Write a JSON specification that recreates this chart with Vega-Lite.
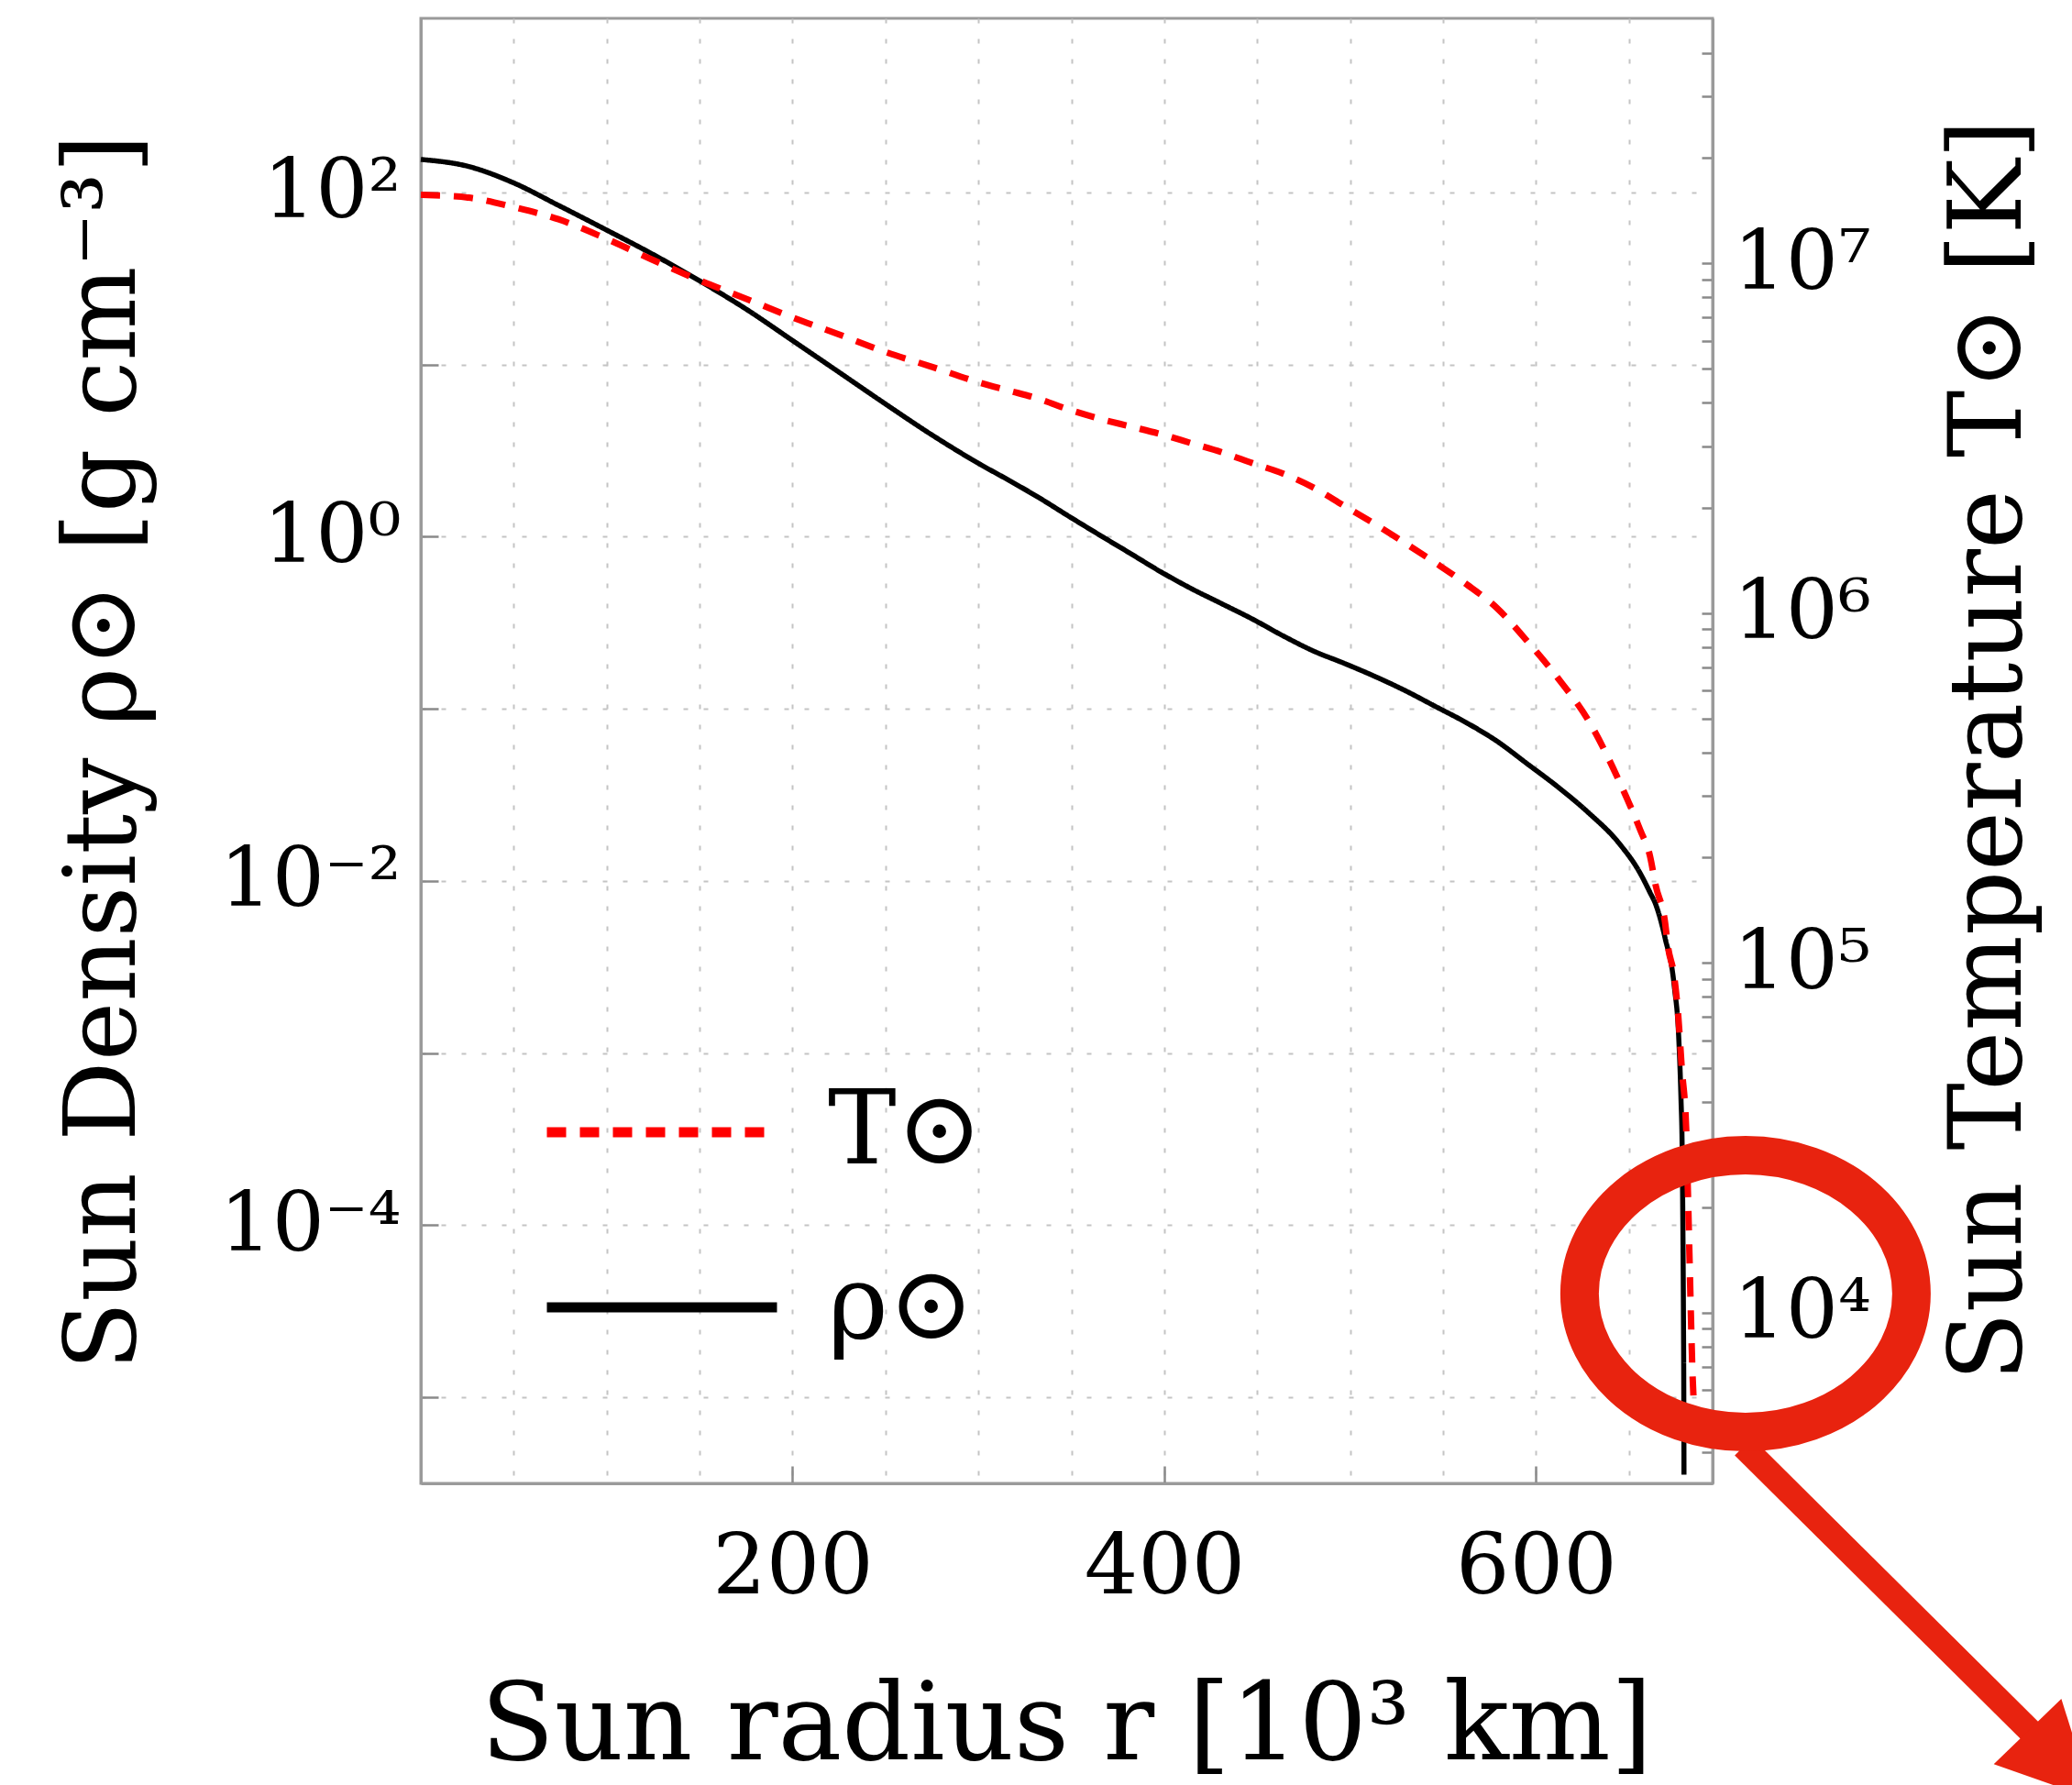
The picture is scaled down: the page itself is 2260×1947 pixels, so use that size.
{
  "$schema": "https://vega.github.io/schema/vega-lite/v6.json",
  "width": 1409,
  "height": 1598,
  "autosize": {"type": "none"},
  "padding": {"left": 459, "top": 20, "right": 392, "bottom": 329},
  "background": "white",
  "config": {
    "view": {"stroke": "#9a9a9a", "strokeWidth": 3},
    "font": "DejaVu Serif",
    "axis": {
      "labelFont": "DejaVu Serif",
      "titleFont": "DejaVu Serif",
      "labelColor": "black",
      "titleColor": "black",
      "titleFontWeight": "normal",
      "domainColor": "#9a9a9a",
      "domainWidth": 3,
      "tickColor": "#8a8a8a",
      "tickWidth": 2.5,
      "gridColor": "#c4c4c4",
      "gridDash": [5, 17],
      "gridWidth": 2,
      "labelOverlap": false,
      "labelFlush": false,
      "labelBound": false,
      "labelLimit": 0
    }
  },
  "datasets": {
    "density": [
      {"r": 0, "rho": 155.2},
      {"r": 25.7, "rho": 141.3},
      {"r": 49.9, "rho": 113.5},
      {"r": 74.1, "rho": 83.95},
      {"r": 98.3, "rho": 61.66},
      {"r": 124.8, "rho": 43.65},
      {"r": 150.1, "rho": 30.55},
      {"r": 175.4, "rho": 20.84},
      {"r": 199.7, "rho": 13.84},
      {"r": 223.9, "rho": 9.183},
      {"r": 250.3, "rho": 5.861},
      {"r": 274.5, "rho": 3.926},
      {"r": 300.9, "rho": 2.630},
      {"r": 315.9, "rho": 2.138},
      {"r": 332.3, "rho": 1.690},
      {"r": 348.8, "rho": 1.309},
      {"r": 365.2, "rho": 1.021},
      {"r": 381.6, "rho": 0.7998},
      {"r": 398.0, "rho": 0.6252},
      {"r": 414.5, "rho": 0.4989},
      {"r": 430.9, "rho": 0.4074},
      {"r": 447.4, "rho": 0.3319},
      {"r": 463.8, "rho": 0.2655},
      {"r": 480.3, "rho": 0.2163},
      {"r": 496.7, "rho": 0.1837},
      {"r": 513.2, "rho": 0.1542},
      {"r": 529.6, "rho": 0.1274},
      {"r": 546.1, "rho": 0.1028},
      {"r": 562.5, "rho": 0.08299},
      {"r": 578.9, "rho": 0.06486},
      {"r": 595.4, "rho": 0.04775},
      {"r": 611.8, "rho": 0.03508},
      {"r": 628.3, "rho": 0.02483},
      {"r": 644.7, "rho": 0.01652},
      {"r": 656.2, "rho": 0.01099},
      {"r": 661.2, "rho": 0.00861},
      {"r": 664.4, "rho": 0.00729},
      {"r": 669.4, "rho": 0.004667},
      {"r": 674.4, "rho": 0.002427},
      {"r": 676.8, "rho": 0.001213},
      {"r": 678.0, "rho": 0.000537},
      {"r": 678.6, "rho": 0.000288},
      {"r": 679.0, "rho": 0.0001},
      {"r": 679.3, "rho": 0.0000316},
      {"r": 679.5, "rho": 0.00001},
      {"r": 679.6, "rho": 0.00000355}
    ],
    "temperature": [
      {"r": 0, "T": 15700000},
      {"r": 25.7, "T": 15420000},
      {"r": 49.9, "T": 14490000},
      {"r": 74.1, "T": 13370000},
      {"r": 98.3, "T": 11860000},
      {"r": 124.8, "T": 10230000},
      {"r": 150.1, "T": 8933000},
      {"r": 175.4, "T": 7907000},
      {"r": 199.7, "T": 7015000},
      {"r": 223.9, "T": 6295000},
      {"r": 250.3, "T": 5572000},
      {"r": 274.5, "T": 5070000},
      {"r": 300.9, "T": 4560000},
      {"r": 315.9, "T": 4335000},
      {"r": 332.3, "T": 4102000},
      {"r": 348.8, "T": 3819000},
      {"r": 365.2, "T": 3597000},
      {"r": 381.6, "T": 3420000},
      {"r": 398.0, "T": 3251000},
      {"r": 414.5, "T": 3062000},
      {"r": 430.9, "T": 2884000},
      {"r": 447.4, "T": 2685000},
      {"r": 463.8, "T": 2506000},
      {"r": 480.3, "T": 2286000},
      {"r": 496.7, "T": 2028000},
      {"r": 513.2, "T": 1799000},
      {"r": 529.6, "T": 1585000},
      {"r": 546.1, "T": 1390000},
      {"r": 562.5, "T": 1211000},
      {"r": 578.9, "T": 1035000},
      {"r": 595.4, "T": 829900},
      {"r": 611.8, "T": 651600},
      {"r": 628.3, "T": 492000},
      {"r": 644.7, "T": 331100},
      {"r": 656.2, "T": 238800},
      {"r": 661.2, "T": 203200},
      {"r": 664.4, "T": 166300},
      {"r": 669.4, "T": 130600},
      {"r": 671.0, "T": 111200},
      {"r": 674.4, "T": 90990},
      {"r": 676.5, "T": 70790},
      {"r": 678.4, "T": 50120},
      {"r": 680.8, "T": 33340},
      {"r": 681.7, "T": 22280},
      {"r": 682.5, "T": 14890},
      {"r": 683.3, "T": 9977},
      {"r": 684.2, "T": 6668},
      {"r": 685.0, "T": 5346},
      {"r": 685.4, "T": 4790}
    ]
  },
  "layer": [
    {
      "data": {"name": "density"},
      "mark": {"type": "line", "strokeWidth": 5.5, "interpolate": "monotone"},
      "encoding": {
        "x": {
          "field": "r",
          "type": "quantitative",
          "scale": {"domain": [0, 695], "nice": false, "zero": false},
          "axis": {
            "orient": "bottom",
            "values": [50, 100, 150, 200, 250, 300, 350, 400, 450, 500, 550, 600, 650],
            "grid": true,
            "ticks": false,
            "labels": false,
            "domain": false,
            "title": null
          }
        },
        "y": {
          "field": "rho",
          "type": "quantitative",
          "scale": {"type": "log", "domain": [0.00000316, 1025], "nice": false},
          "axis": {
            "orient": "left",
            "values": [0.00001, 0.0001, 0.001, 0.01, 0.1, 1, 10, 100],
            "labelExpr": "round(log(datum.value)/LN10) == 2 ? '10²' : round(log(datum.value)/LN10) == 0 ? '10⁰' : round(log(datum.value)/LN10) == -2 ? '10⁻²' : round(log(datum.value)/LN10) == -4 ? '10⁻⁴' : ''",
            "grid": true,
            "tickSize": -19,
            "labelFontSize": 90,
            "labelPadding": 41,
            "labelBaseline": "middle",
            "title": "Sun Density ρ⊙ [g cm⁻³]",
            "titleFontSize": 109,
            "titleAngle": 270,
            "titleBaseline": "alphabetic",
            "titleX": -313,
            "titleY": 800
          }
        },
        "color": {
          "datum": "ρ⊙",
          "type": "nominal",
          "scale": {"domain": ["T⊙", "ρ⊙"], "range": ["#ff0000", "#000000"]},
          "legend": {
            "title": null,
            "orient": "none",
            "legendX": 132,
            "legendY": 1084,
            "symbolType": "stroke",
            "symbolSize": 63000,
            "symbolStrokeWidth": 11,
            "labelFontSize": 112,
            "labelFont": "DejaVu Serif",
            "labelColor": "black",
            "labelLimit": 0,
            "labelOffset": 50,
            "padding": 0,
            "rowPadding": 4
          }
        },
        "strokeDash": {
          "datum": "ρ⊙",
          "type": "nominal",
          "scale": {"domain": ["T⊙", "ρ⊙"], "range": [[21, 15], [1, 0]]}
        }
      }
    },
    {
      "data": {"name": "temperature"},
      "mark": {"type": "line", "strokeWidth": 7, "interpolate": "monotone"},
      "encoding": {
        "x": {
          "field": "r",
          "type": "quantitative",
          "axis": {
            "orient": "bottom",
            "values": [200, 400, 600],
            "grid": false,
            "tickSize": -19,
            "labelFontSize": 92,
            "labelPadding": 65,
            "title": "Sun radius r [10³ km]",
            "titleFontSize": 117,
            "titleBaseline": "alphabetic",
            "titleX": 704,
            "titleY": 300
          }
        },
        "y": {
          "field": "T",
          "type": "quantitative",
          "scale": {"type": "log", "domain": [3249, 50200000], "nice": false},
          "axis": {
            "orient": "right",
            "values": [4000, 5000, 6000, 7000, 8000, 9000, 10000, 20000, 30000, 40000, 50000, 60000, 70000, 80000, 90000, 100000, 200000, 300000, 400000, 500000, 600000, 700000, 800000, 900000, 1000000, 2000000, 3000000, 4000000, 5000000, 6000000, 7000000, 8000000, 9000000, 10000000, 20000000, 30000000, 40000000],
            "labelExpr": "abs(log(datum.value)/LN10 - round(log(datum.value)/LN10)) > 0.01 ? '' : round(log(datum.value)/LN10) == 4 ? '10⁴' : round(log(datum.value)/LN10) == 5 ? '10⁵' : round(log(datum.value)/LN10) == 6 ? '10⁶' : round(log(datum.value)/LN10) == 7 ? '10⁷' : ''",
            "grid": false,
            "tickSize": -12,
            "labelFontSize": 90,
            "labelPadding": 34,
            "labelBaseline": "middle",
            "title": "Sun Temperature T⊙ [K]",
            "titleFontSize": 110,
            "titleAngle": 270,
            "titleBaseline": "alphabetic",
            "titleX": 335,
            "titleY": 798
          }
        },
        "color": {
          "datum": "T⊙",
          "type": "nominal",
          "scale": {"domain": ["T⊙", "ρ⊙"], "range": ["#ff0000", "#000000"]}
        },
        "strokeDash": {
          "datum": "T⊙",
          "type": "nominal",
          "scale": {"domain": ["T⊙", "ρ⊙"], "range": [[21, 15], [1, 0]]}
        }
      }
    },
    {
      "data": {"values": [{}]},
      "mark": {"type": "rule", "color": "#e8230f", "strokeWidth": 27},
      "encoding": {
        "x": {"datum": 711.6, "type": "quantitative", "axis": null},
        "y": {"datum": 4140, "type": "quantitative", "scale": {"type": "log", "domain": [3249, 50200000], "nice": false}, "axis": null},
        "x2": {"datum": 870},
        "y2": {"datum": 605}
      }
    },
    {
      "data": {"values": [{}]},
      "mark": {"type": "point", "shape": "M 1 0 L -1 -1 L -1 1 Z", "size": 10500, "angle": 46, "filled": true, "color": "#e8230f", "opacity": 1},
      "encoding": {
        "x": {"datum": 882, "type": "quantitative", "axis": null},
        "y": {"datum": 508, "type": "quantitative", "scale": {"type": "log", "domain": [3249, 50200000], "nice": false}, "axis": null}
      }
    },
    {
      "data": {"values": [{}]},
      "mark": {"type": "point", "shape": "M -1 0 A 1 0.834 0 1 0 1 0 A 1 0.834 0 1 0 -1 0 Z", "size": 131044, "filled": false, "stroke": "#e8230f", "strokeWidth": 42, "opacity": 1},
      "encoding": {
        "x": {"datum": 712.7, "type": "quantitative", "axis": null},
        "y": {"datum": 11330, "type": "quantitative", "scale": {"type": "log", "domain": [3249, 50200000], "nice": false}, "axis": null}
      }
    }
  ],
  "resolve": {"scale": {"y": "independent"}, "axis": {"y": "independent", "x": "independent"}}
}
